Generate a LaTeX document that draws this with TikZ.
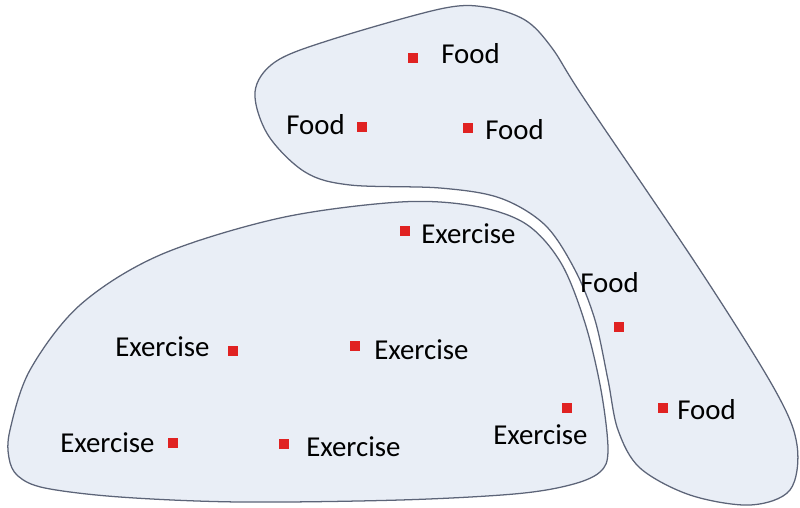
\documentclass[tikz,border=0pt]{standalone}
\usepackage{fontspec}
\setmainfont{Carlito}
\usepackage{tikz}

\definecolor{blobfill}{HTML}{E9EEF6}
\definecolor{blobline}{HTML}{5C6478}
\definecolor{dotred}{HTML}{E02222}

\tikzset{
  blob/.style={fill=blobfill,draw=blobline,line width=0.9pt},
  item/.style={fill=dotred,inner sep=0pt,minimum size=0.27cm,rectangle},
  tag/.style={font=\fontsize{20.5}{24}\selectfont,inner sep=0pt,anchor=west}
}

\begin{document}
\begin{tikzpicture}[x=0.025cm,y=-0.025cm]

        \useasboundingbox (0,0) rectangle (800,507);

        % Food group (hook shape)
        \draw[blob] plot[smooth cycle,tension=0.55] coordinates {
            (255,92) (275,62) (330,40) (440,9) (485,7) (525,20) (552,48)
            (585,100) (700,270) (775,390) (797,445) (790,490) (750,505)
            (690,495) (640,468) (618,430) (608,380) (595,320) (575,270)
            (545,225) (500,198) (440,188) (350,185) (305,172) (268,135)};

        % Exercise group
        \draw[blob] plot[smooth cycle,tension=0.55] coordinates {
            (10,430) (30,370) (80,305) (160,255) (280,218) (400,202)
            (474,206) (526,224) (561,263) (585,323) (601,390) (608,450)
            (600,472) (570,485) (514,494) (400,500) (240,502) (120,497)
            (45,488) (18,476) (9,458)};

        % Food items
        \node[item] (f1) at (413,58) {};
        \node[item] (f2) at (362,127) {};
        \node[item] (f3) at (468,128) {};
        \node[item] (f4) at (619,327) {};
        \node[item] (f5) at (663,408) {};

        \node[tag] (f1lab) at (441,54) {Food};
        \node[tag] (f2lab) at (286,125) {Food};
        \node[tag] (f3lab) at (485,130) {Food};
        \node[tag] (f4lab) at (580,283) {Food};
        \node[tag] (f5lab) at (677,410) {Food};

        % Exercise items
        \node[item] (e1) at (405,231) {};
        \node[item] (e2) at (233,351) {};
        \node[item] (e3) at (355,346) {};
        \node[item] (e4) at (567,408) {};
        \node[item] (e5) at (173,443) {};
        \node[item] (e6) at (284,444) {};

        \node[tag] (e1lab) at (421,234) {Exercise};
        \node[tag] (e2lab) at (115,347) {Exercise};
        \node[tag] (e3lab) at (374,350) {Exercise};
        \node[tag] (e4lab) at (493,435) {Exercise};
        \node[tag] (e5lab) at (60,443) {Exercise};
        \node[tag] (e6lab) at (306,447) {Exercise};

\end{tikzpicture}
\end{document}
